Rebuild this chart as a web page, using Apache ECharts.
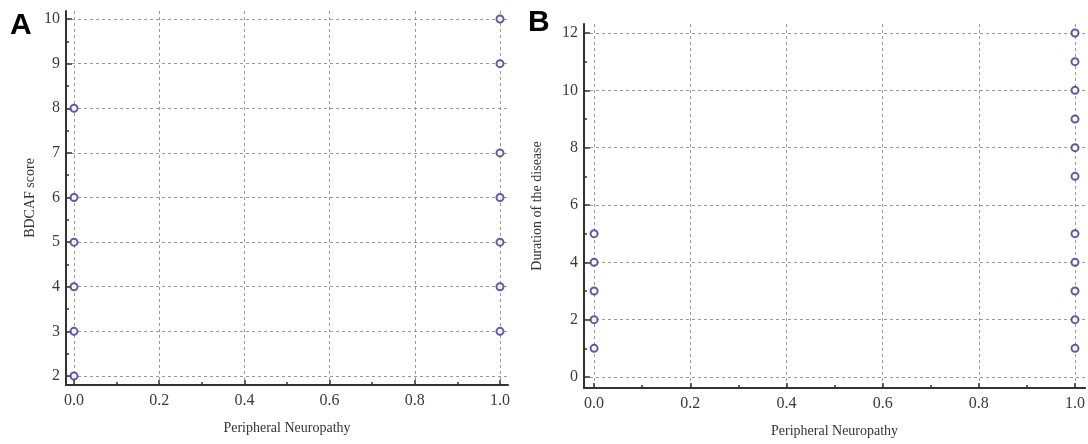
<!DOCTYPE html>
<html>
<head>
<meta charset="utf-8">
<script src="https://cdn.jsdelivr.net/npm/echarts@6/dist/echarts.min.js"></script>
<style>
  html, body { margin: 0; padding: 0; background: #fff; }
  #chart { width: 1088px; height: 444px; }
</style>
</head>
<body>
<div id="chart"></div>
<script>
// tick values
const xTicks = [0, 0.2, 0.4, 0.6, 0.8, 1.0];
const xMinor = [0.1, 0.3, 0.5, 0.7, 0.9];
const aTicks = [2, 3, 4, 5, 6, 7, 8, 9, 10];
const aMinor = [2.5, 3.5, 4.5, 5.5, 6.5, 7.5, 8.5, 9.5];
const bTicks = [0, 2, 4, 6, 8, 10, 12];
const bMinor = [1, 3, 5, 7, 9, 11];

// values (x = 0: no neuropathy, x = 1: neuropathy)
const aScoreNo = [8, 6, 5, 4, 3, 2];
const aScoreYes = [10, 9, 7, 6, 5, 4, 3];
const bDurNo = [5, 4, 3, 2, 1];
const bDurYes = [12, 11, 10, 9, 8, 7, 5, 4, 3, 2, 1];

const serif = 'Liberation Serif';
const axisColor = '#333';
const dotColor = '#35358f';

const chart = echarts.init(document.getElementById('chart'));

function mainX(gridIndex, min, max) {
  return {
    type: 'value', gridIndex, min, max,
    name: 'Peripheral Neuropathy', nameLocation: 'middle', nameGap: 36,
    nameTextStyle: { fontFamily: serif, fontSize: 14, color: '#333' },
    axisLine: { show: true, onZero: false, lineStyle: { color: axisColor, width: 2 } },
    axisTick: { show: true, inside: true, length: 5, customValues: xTicks, lineStyle: { color: axisColor, width: 1.5 } },
    axisLabel: { customValues: xTicks, fontFamily: serif, fontSize: 16, color: '#3a3a3a', margin: 8,
      formatter: v => v.toFixed(1) },
    splitLine: { show: true, lineStyle: { color: '#999', type: [3, 3], width: 1 } }
  };
}
function minorX(gridIndex, min, max) {
  return {
    type: 'value', gridIndex, min, max, position: 'bottom',
    axisLine: { show: false, onZero: false },
    axisTick: { show: true, inside: true, length: 3, customValues: xMinor, lineStyle: { color: axisColor, width: 1.5 } },
    axisLabel: { show: false },
    splitLine: { show: false }
  };
}
function mainY(gridIndex, min, max, ticks, name, gap) {
  return {
    type: 'value', gridIndex, min, max, position: 'left',
    name, nameLocation: 'middle', nameGap: gap,
    nameTextStyle: { fontFamily: serif, fontSize: 14, color: '#333' },
    axisLine: { show: true, onZero: false, lineStyle: { color: axisColor, width: 2 } },
    axisTick: { show: true, inside: true, length: 6, customValues: ticks, lineStyle: { color: axisColor, width: 1.5 } },
    axisLabel: { customValues: ticks, fontFamily: serif, fontSize: 16, color: '#3a3a3a', margin: 6 },
    splitLine: { show: true, lineStyle: { color: '#999', type: [3, 3], width: 1 } }
  };
}
function minorY(gridIndex, min, max, ticks) {
  return {
    type: 'value', gridIndex, min, max, position: 'left',
    axisLine: { show: false, onZero: false },
    axisTick: { show: true, inside: true, length: 3, customValues: ticks, lineStyle: { color: axisColor, width: 1.5 } },
    axisLabel: { show: false },
    splitLine: { show: false }
  };
}
function dots(xAxisIndex, yAxisIndex, x, vals) {
  return {
    type: 'scatter', xAxisIndex, yAxisIndex,
    data: vals.map(v => [x, v]),
    symbol: 'emptyCircle', symbolSize: 7,
    itemStyle: { color: dotColor, borderColor: dotColor, borderWidth: 1.5 },
    clip: false, silent: true
  };
}

chart.setOption({
  animation: false,
  grid: [
    { left: 66, right: 580, top: 11, bottom: 59, containLabel: false },
    { left: 584, right: 2, top: 24, bottom: 56, containLabel: false }
  ],
  xAxis: [
    mainX(0, -0.0188, 1.0188),
    minorX(0, -0.0188, 1.0188),
    mainX(1, -0.021, 1.021),
    minorX(1, -0.021, 1.021)
  ],
  yAxis: [
    mainY(0, 1.798, 10.18, aTicks, 'BDCAF score', 29),
    minorY(0, 1.798, 10.18, aMinor),
    mainY(1, -0.384, 12.314, bTicks, 'Duration of the disease', 40),
    minorY(1, -0.384, 12.314, bMinor)
  ],
  series: [
    dots(0, 0, 0, aScoreNo),
    dots(0, 0, 1, aScoreYes),
    dots(2, 2, 0, bDurNo),
    dots(2, 2, 1, bDurYes)
  ],
  graphic: [
    { type: 'text', left: 10, top: 11, style: { text: 'A', font: 'bold 30px "Liberation Sans"', fill: '#000' } },
    { type: 'text', left: 528, top: 8, style: { text: 'B', font: 'bold 30px "Liberation Sans"', fill: '#000' } }
  ]
});
</script>
</body>
</html>
